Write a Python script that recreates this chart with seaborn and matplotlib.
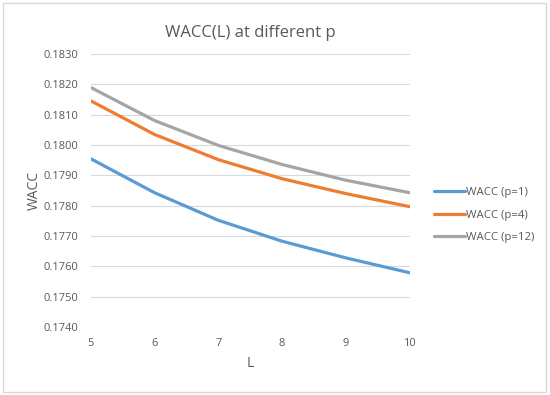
import pandas as pd
import matplotlib.pyplot as plt
import seaborn as sns
from matplotlib.patches import Rectangle

# Datos
L = [5, 6, 7, 8, 9, 10]
wacc_p1 = [0.17955, 0.17843, 0.17752, 0.17683, 0.17628, 0.17579]
wacc_p4 = [0.18146, 0.18035, 0.17952, 0.17889, 0.17840, 0.17797]
wacc_p12 = [0.18190, 0.18081, 0.17999, 0.17936, 0.17884, 0.17843]
series_names = ['WACC (p=1)', 'WACC (p=4)', 'WACC (p=12)']
colors = ['#5B9BD5', '#ED7D31', '#A5A5A5']

df = pd.DataFrame({
    'L': L * 3,
    'WACC': wacc_p1 + wacc_p4 + wacc_p12,
    'serie': [series_names[0]] * 6 + [series_names[1]] * 6 + [series_names[2]] * 6,
})

sns.set_style('white')
plt.rcParams['font.family'] = ['Open Sans', 'DejaVu Sans']

fig = plt.figure(figsize=(5.5, 3.95), dpi=100)
ax = fig.add_axes([0.165, 0.172, 0.58, 0.691])

sns.lineplot(data=df, x='L', y='WACC', hue='serie', palette=colors,
             linewidth=2.3, ax=ax)

ax.set_xlim(5, 10)
ax.set_ylim(0.1740, 0.1830)
ax.set_yticks([0.1740 + 0.001 * i for i in range(10)])
ax.set_yticklabels([f'{0.1740 + 0.001 * i:.4f}' for i in range(10)])
ax.set_xticks(L)
ax.grid(axis='y', color='#D9D9D9', linewidth=0.8)
ax.set_axisbelow(True)
for s in ax.spines.values():
    s.set_visible(False)
ax.tick_params(axis='both', length=0, labelsize=8, labelcolor='#595959')
ax.tick_params(axis='y', pad=9)
ax.tick_params(axis='x', pad=8)

ax.set_xlabel('L', fontsize=10, color='#595959', labelpad=5)
ax.set_ylabel('WACC', fontsize=10, color='#595959', labelpad=1)
ax.set_title('WACC(L) at different p', fontsize=12, color='#595959', pad=12)

leg = ax.legend(loc='center left', bbox_to_anchor=(1.045, 0.41), frameon=False,
                fontsize=8.2, handlelength=2.7, handletextpad=0.05, labelspacing=1.0)
for t in leg.get_texts():
    t.set_color('#595959')

fig.patches.append(Rectangle((0.006, 0.008), 0.987, 0.985, transform=fig.transFigure,
                             fill=False, edgecolor='#D9D9D9', linewidth=1))

fig.savefig('out.png', dpi=100)
